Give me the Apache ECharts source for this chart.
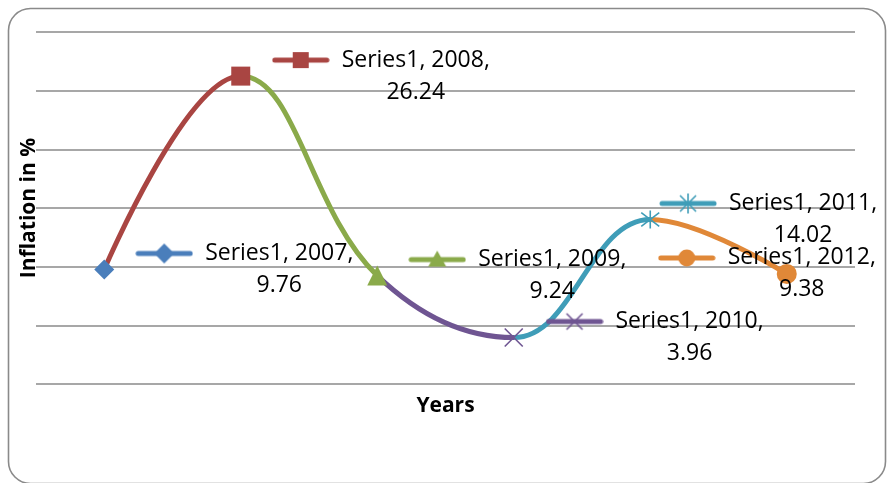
<!DOCTYPE html>
<html>
<head>
<meta charset="utf-8">
<script src="https://cdn.jsdelivr.net/npm/echarts@6/dist/echarts.min.js"></script>
<style>
  html, body { margin: 0; padding: 0; background: #ffffff; }
  #chart { width: 887px; height: 483px; }
</style>
</head>
<body>
<div id="chart"></div>
<script>
// Annual inflation, one point per year
const seriesName = 'Series1';
const years = ['2007', '2008', '2009', '2010', '2011', '2012'];
const inflation = [9.76, 26.24, 9.24, 3.96, 14.02, 9.38];
const yMin = 0, yMax = 30, yStep = 5;

// Per-point colours and markers (Excel "vary colours by point")
const pointColors = ['#4A7EBB', '#A94542', '#8AAA4A', '#6F5592', '#3F9DB8', '#E08838'];
const pointMarkers = ['diamond', 'square', 'triangle', 'cross', 'star', 'circle'];

// Horizontal placement of each data label (left edge, relative to its point)
const labelLeft = [31, 31, 31, 31, 8, -129];

const FONT = '"Open Sans", "Liberation Sans", sans-serif';

const symbolFor = {
  diamond: { symbol: 'diamond', size: 20, stroke: false },
  square: { symbol: 'rect', size: 19, stroke: false },
  triangle: { symbol: 'triangle', size: 20, stroke: false },
  cross: { symbol: 'path://M0,0L10,10M10,0L0,10', size: 18, stroke: true },
  star: { symbol: 'path://M0,0L10,10M10,0L0,10M5,-1.5L5,11.5', size: 18, stroke: true },
  circle: { symbol: 'circle', size: 20, stroke: false }
};

// Small legend-key image (line + marker) used inside each data label
function drawKey(i) {
  const c = document.createElement('canvas');
  c.width = 58; c.height = 24;
  const g = c.getContext('2d');
  const col = pointColors[i];
  g.strokeStyle = col;
  g.fillStyle = col;
  g.lineWidth = 5;
  g.lineCap = 'round';
  g.beginPath(); g.moveTo(3, 12); g.lineTo(55, 12); g.stroke();
  const cx = 29, cy = 12, r = 10;
  g.lineCap = 'butt';
  switch (pointMarkers[i]) {
    case 'diamond':
      g.beginPath(); g.moveTo(cx, cy - r); g.lineTo(cx + r, cy); g.lineTo(cx, cy + r); g.lineTo(cx - r, cy); g.closePath(); g.fill();
      break;
    case 'square':
      g.fillRect(cx - 8, cy - 8, 16, 16);
      break;
    case 'triangle':
      g.beginPath(); g.moveTo(cx, cy - 9); g.lineTo(cx + 9, cy + 7); g.lineTo(cx - 9, cy + 7); g.closePath(); g.fill();
      break;
    case 'cross':
      g.lineWidth = 1.6;
      g.beginPath(); g.moveTo(cx - 8, cy - 8); g.lineTo(cx + 8, cy + 8); g.moveTo(cx + 8, cy - 8); g.lineTo(cx - 8, cy + 8); g.stroke();
      break;
    case 'star':
      g.lineWidth = 1.6;
      g.beginPath(); g.moveTo(cx - 8, cy - 8); g.lineTo(cx + 8, cy + 8); g.moveTo(cx + 8, cy - 8); g.lineTo(cx - 8, cy + 8);
      g.moveTo(cx, cy - 10); g.lineTo(cx, cy + 10); g.stroke();
      break;
    case 'circle':
      g.beginPath(); g.arc(cx, cy, 8.5, 0, Math.PI * 2); g.fill();
      break;
  }
  return c;
}

const rich = {
  g: { width: 10, align: 'left' },
  s: { width: 68, align: 'left' },
  t: { width: 152, align: 'center', fontSize: 23, fontFamily: FONT, lineHeight: 32, color: '#000000' }
};
years.forEach((y, i) => {
  rich['k' + i] = { width: 58, height: 24, align: 'left', backgroundColor: { image: drawKey(i) } };
});

const markerData = inflation.map((v, i) => {
  const m = symbolFor[pointMarkers[i]];
  return {
    value: v,
    symbol: m.symbol,
    symbolSize: m.size,
    itemStyle: m.stroke
      ? { color: 'rgba(0,0,0,0)', borderColor: pointColors[i], borderWidth: 1.6, opacity: 1 }
      : { color: pointColors[i], borderWidth: 0, opacity: 1 },
    label: { offset: [labelLeft[i] - m.size / 2, 0] }
  };
});

// Each curve segment takes the colour of the point it ends at
const pieces = years.slice(1).map((y, k) => {
  const i = k + 1;
  if (i === 1) return { lte: 1, color: pointColors[1] };
  if (i === years.length - 1) return { gt: i - 1, color: pointColors[i] };
  return { gt: i - 1, lte: i, color: pointColors[i] };
});

const chart = echarts.init(document.getElementById('chart'), null, { renderer: 'canvas' });
chart.setOption({
  animation: false,
  backgroundColor: '#ffffff',
  graphic: [{
    type: 'rect',
    left: 6, top: 6,
    shape: { width: 877, height: 475, r: 22 },
    style: { fill: 'none', stroke: '#8a8a8a', lineWidth: 1.6 },
    z: -1
  }],
  grid: { left: 36, right: 32, top: 32, bottom: 99 },
  xAxis: {
    type: 'category',
    data: years,
    boundaryGap: true,
    axisLine: { show: false },
    axisTick: { show: false },
    axisLabel: { show: false },
    name: 'Years',
    nameLocation: 'middle',
    nameGap: 12,
    nameTextStyle: { fontFamily: FONT, fontSize: 21, fontWeight: 'bold', color: '#000000' }
  },
  yAxis: {
    type: 'value',
    min: yMin, max: yMax, interval: yStep,
    axisLine: { show: false },
    axisTick: { show: false },
    axisLabel: { show: false },
    splitLine: { show: true, lineStyle: { color: '#8a8a8a', width: 1.5 } },
    name: 'Inflation in %',
    nameLocation: 'middle',
    nameRotate: 90,
    nameGap: -4,
    nameTextStyle: { fontFamily: FONT, fontSize: 21, fontWeight: 'bold', color: '#000000' }
  },
  visualMap: {
    show: false,
    type: 'piecewise',
    seriesIndex: 0,
    dimension: 0,
    pieces: pieces
  },
  series: [
    {
      name: seriesName,
      type: 'line',
      data: inflation,
      smooth: 0.4,
      showSymbol: false,
      symbol: 'none',
      lineStyle: { width: 5, cap: 'round' },
      z: 2
    },
    {
      name: seriesName,
      type: 'scatter',
      data: markerData,
      z: 3,
      itemStyle: { opacity: 1 },
      label: {
        show: true,
        position: 'right',
        distance: 0,
        align: 'left',
        verticalAlign: 'middle',
        fontFamily: FONT,
        fontSize: 23,
        lineHeight: 32,
        color: '#000000',
        formatter: p => `{k${p.dataIndex}|}{g|}{t|${seriesName}, ${years[p.dataIndex]},}\n{s|}{t|${inflation[p.dataIndex]}}`,
        rich: rich
      }
    }
  ]
});
</script>
</body>
</html>
